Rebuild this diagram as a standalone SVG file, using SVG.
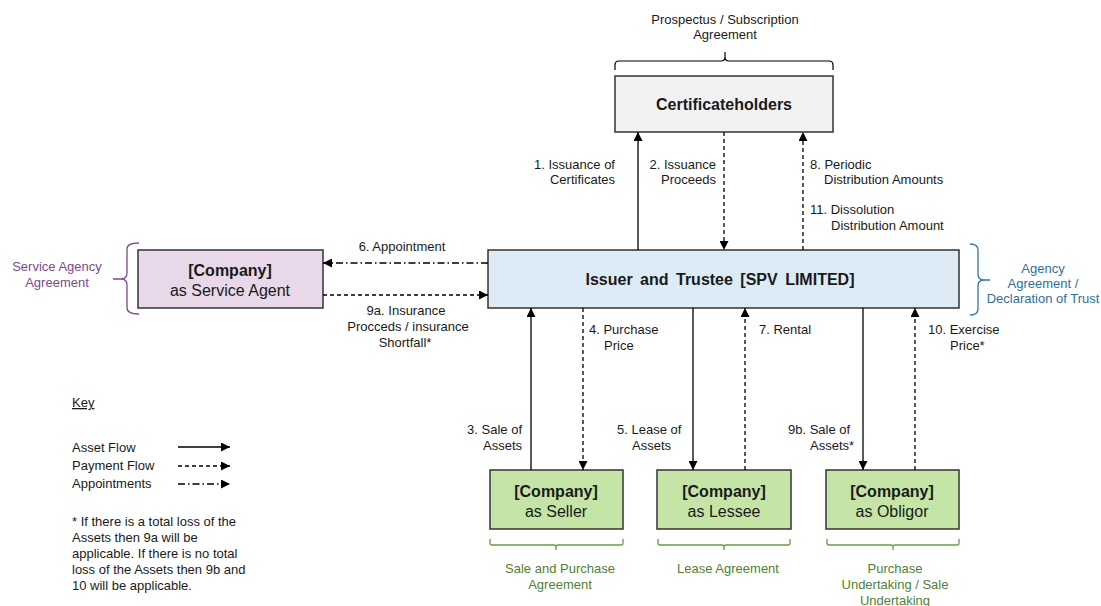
<svg xmlns="http://www.w3.org/2000/svg" width="1101" height="606" viewBox="0 0 1101 606">
<style>
text{font-family:"Liberation Sans",Arial,sans-serif;font-size:13px;fill:#1a1a1a}
.t{font-size:16px}
.b{font-weight:bold}
.m{text-anchor:middle}
.e{text-anchor:end}
.box{stroke:#333;stroke-width:1.5}
.ln{stroke:#000;stroke-width:1.3;fill:none}
.pay{stroke-dasharray:4 3}
.app{stroke-dasharray:7 3 1.5 3}
.pur{fill:#7b4a8c}
.blu{fill:#2e6f9e}
.grn{fill:#4f7f32}
</style>
<defs>
<marker id="ah" viewBox="0 0 10 10" refX="10" refY="5" markerWidth="11" markerHeight="9" markerUnits="userSpaceOnUse" orient="auto">
<path d="M0,0 L10,5 L0,10 z" fill="#000"/>
</marker>
</defs>
<rect width="1101" height="606" fill="#fff"/>

<g id="certificateholders">
<text class="m" x="725" y="24">Prospectus / Subscription</text>
<text class="m" x="725" y="39">Agreement</text>
<path d="M615,70 v-5 q0,-4 4,-4 h102 q4,0 4,-4 v-5 M725,57 q0,4 4,4 h100 q4,0 4,4 v5" fill="none" stroke="#000" stroke-width="1.2"/>
<rect class="box" x="615" y="76" width="218" height="56" fill="#f2f2f2"/>
<text class="t b m" x="724" y="110">Certificateholders</text>
</g>

<g id="issuer">
<rect class="box" x="488" y="250" width="471" height="58" fill="#ddebf7"/>
<text class="t b m" x="720" y="285" style="word-spacing:3px">Issuer and Trustee [SPV LIMITED]</text>
<path d="M970,244 q8,0 8,6 v24 q0,6 6,6 h6 M984,280 q-6,0 -6,6 v23 q0,6 -8,6" fill="none" stroke="#2e75b6" stroke-width="1.3"/>
<text class="m blu" x="1043" y="273">Agency</text>
<text class="m blu" x="1043" y="288">Agreement /</text>
<text class="m blu" x="1043" y="303">Declaration of Trust</text>
</g>

<g id="service-agent">
<rect class="box" x="138" y="250" width="185" height="58" fill="#e8d8ea"/>
<text class="t b m" x="230" y="276">[Company]</text>
<text class="t m" x="230" y="296">as Service Agent</text>
<path d="M139,243 q-12,0 -12,6 v24 q0,6 -6,6 h-8 M121,279 q6,0 6,6 v23 q0,6 12,6" fill="none" stroke="#7b4a8c" stroke-width="1.3"/>
<text class="m pur" x="57" y="271">Service Agency</text>
<text class="m pur" x="57" y="287">Agreement</text>
</g>

<g id="seller">
<rect class="box" x="490" y="470" width="133" height="59" fill="#c4e5a5"/>
<text class="t b m" x="556" y="497">[Company]</text>
<text class="t m" x="556" y="517">as Seller</text>
<path d="M490,539 v4 q0,2 2,2 h62 q2,0 2,2 v3 M556,547 q0,-2 2,-2 h63 q2,0 2,-2 v-4" fill="none" stroke="#6a9a45" stroke-width="1.3"/>
<text class="m grn" x="560" y="573">Sale and Purchase</text>
<text class="m grn" x="560" y="589">Agreement</text>
</g>

<g id="lessee">
<rect class="box" x="657" y="470" width="134" height="59" fill="#c4e5a5"/>
<text class="t b m" x="724" y="497">[Company]</text>
<text class="t m" x="724" y="517">as Lessee</text>
<path d="M658,539 v4 q0,2 2,2 h62 q2,0 2,2 v3 M724,547 q0,-2 2,-2 h62 q2,0 2,-2 v-4" fill="none" stroke="#6a9a45" stroke-width="1.3"/>
<text class="m grn" x="728" y="573">Lease Agreement</text>
</g>

<g id="obligor">
<rect class="box" x="826" y="470" width="133" height="59" fill="#c4e5a5"/>
<text class="t b m" x="892" y="497">[Company]</text>
<text class="t m" x="892" y="517">as Obligor</text>
<path d="M827,539 v4 q0,2 2,2 h62 q2,0 2,2 v3 M893,547 q0,-2 2,-2 h62 q2,0 2,-2 v-4" fill="none" stroke="#6a9a45" stroke-width="1.3"/>
<text class="m grn" x="895" y="573">Purchase</text>
<text class="m grn" x="895" y="589">Undertaking / Sale</text>
<text class="m grn" x="895" y="605">Undertaking</text>
</g>

<g id="connectors">
<line class="ln" x1="638" y1="250" x2="638" y2="132" marker-end="url(#ah)"/>
<line class="ln pay" x1="724" y1="132" x2="724" y2="250" marker-end="url(#ah)"/>
<line class="ln pay" x1="803" y1="250" x2="803" y2="132" marker-end="url(#ah)"/>
<line class="ln app" x1="488" y1="263" x2="323" y2="263" marker-end="url(#ah)"/>
<line class="ln pay" x1="323" y1="295" x2="488" y2="295" marker-end="url(#ah)"/>
<line class="ln" x1="531" y1="470" x2="531" y2="308" marker-end="url(#ah)"/>
<line class="ln pay" x1="583" y1="308" x2="583" y2="470" marker-end="url(#ah)"/>
<line class="ln" x1="693" y1="308" x2="693" y2="470" marker-end="url(#ah)"/>
<line class="ln pay" x1="745" y1="470" x2="745" y2="308" marker-end="url(#ah)"/>
<line class="ln" x1="863" y1="308" x2="863" y2="470" marker-end="url(#ah)"/>
<line class="ln pay" x1="915" y1="470" x2="915" y2="308" marker-end="url(#ah)"/>

<text class="e" x="615" y="169">1. Issuance of</text>
<text class="e" x="615" y="184">Certificates</text>
<text class="e" x="716" y="169">2. Issuance</text>
<text class="e" x="716" y="184">Proceeds</text>
<text x="810" y="169">8. Periodic</text>
<text x="824" y="184">Distribution Amounts</text>
<text x="810" y="214">11. Dissolution</text>
<text x="831" y="230">Distribution Amount</text>
<text class="m" x="402" y="251">6. Appointment</text>
<text class="m" x="406" y="315">9a. Insurance</text>
<text class="m" x="408" y="331">Procceds / insurance</text>
<text class="m" x="405" y="347">Shortfall*</text>
<text x="589" y="334">4. Purchase</text>
<text x="604" y="350">Price</text>
<text x="759" y="334">7. Rental</text>
<text x="928" y="334">10. Exercise</text>
<text x="950" y="350">Price*</text>
<text class="e" x="522" y="434">3. Sale of</text>
<text class="e" x="522" y="450">Assets</text>
<text x="617" y="434">5. Lease of</text>
<text x="632" y="450">Assets</text>
<text x="788" y="434">9b. Sale of</text>
<text x="810" y="450">Assets*</text>
</g>

<g id="key">
<text x="72" y="407" text-decoration="underline">Key</text>
<text x="72" y="452">Asset Flow</text>
<text x="72" y="470">Payment Flow</text>
<text x="72" y="488">Appointments</text>
<line class="ln" x1="178" y1="447" x2="230" y2="447" marker-end="url(#ah)"/>
<line class="ln pay" x1="178" y1="466" x2="230" y2="466" marker-end="url(#ah)"/>
<line class="ln app" x1="178" y1="484" x2="230" y2="484" marker-end="url(#ah)"/>
<text x="72" y="526">* If there is a total loss of the</text>
<text x="72" y="542">Assets then 9a will be</text>
<text x="72" y="558">applicable. If there is no total</text>
<text x="72" y="574">loss of the Assets then 9b and</text>
<text x="72" y="590">10 will be applicable.</text>
</g>
</svg>
